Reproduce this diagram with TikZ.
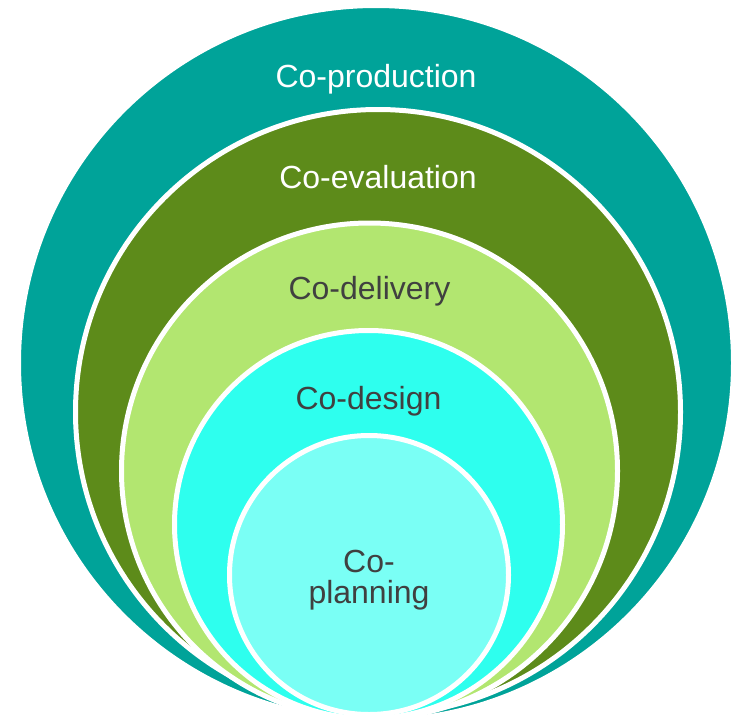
\documentclass[tikz,border=0pt]{standalone}
\usepackage{fontspec}
\setmainfont{Liberation Sans}
\usepackage{tikz}
\usetikzlibrary{positioning}

\definecolor{prodteal}{HTML}{00A399}
\definecolor{evalgreen}{HTML}{5D8B1A}
\definecolor{delivgreen}{HTML}{B2E670}
\definecolor{designcyan}{HTML}{2EFFEE}
\definecolor{plancyan}{HTML}{7AFFF5}
\definecolor{textgray}{HTML}{404040}

\begin{document}
\begin{tikzpicture}[
        x=1pt, y=-1pt,
        ring/.style={circle, draw=white, line width=5pt, inner sep=0pt, outer sep=0pt},
        lighttext/.style={text=white, font=\fontsize{32}{31}\selectfont, anchor=base},
        darktext/.style={text=textgray, font=\fontsize{32}{31}\selectfont, anchor=base}
    ]
    \useasboundingbox (0,0) rectangle (733,717);

    % Nested rings, largest first
    \node[ring, fill=prodteal, minimum size=715pt] (production) at (376,363) {};
    \node[ring, fill=evalgreen, minimum size=605pt] (evaluation) at (378,412) {};
    \node[ring, fill=delivgreen, minimum size=496pt] (delivery) at (369.5,471) {};
    \node[ring, fill=designcyan, minimum size=388pt] (design) at (368.5,524.5) {};
    \node[ring, fill=plancyan, minimum size=279pt] (planning) at (369,575) {};

    % Labels
    \node[lighttext] (productionlabel) at ([yshift=-81.5pt]production.north) {Co-production};
    \node[lighttext] (evaluationlabel) at ([yshift=-78.5pt]evaluation.north) {Co-evaluation};
    \node[darktext] (deliverylabel) at ([yshift=-76pt]delivery.north) {Co-delivery};
    \node[darktext] (designlabel) at ([yshift=-78.5pt]design.north) {Co-design};
    \node[darktext, anchor=center, align=center] (planninglabel) at ([yshift=-5pt]planning.center) {Co-\\planning};

\end{tikzpicture}
\end{document}
